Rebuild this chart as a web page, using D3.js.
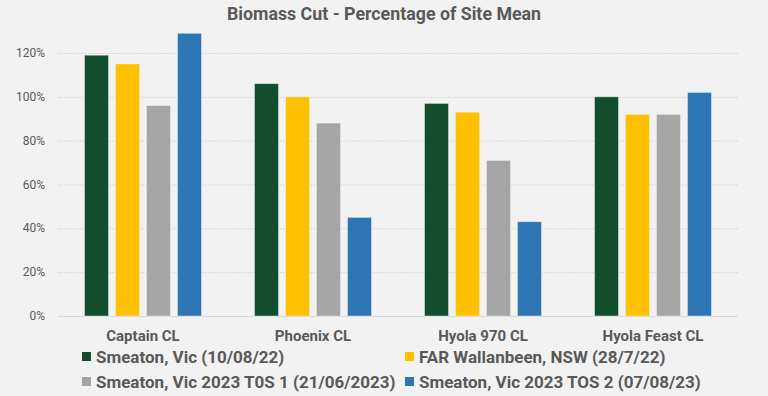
<!DOCTYPE html>
<html>
<head>
<meta charset="utf-8">
<script src="https://cdn.jsdelivr.net/npm/d3@7"></script>
<style>
  body { margin: 0; background: #f2f2f2; }
  text { font-family: Roboto, "Liberation Sans", sans-serif; }
</style>
</head>
<body>
<div id="chart"></div>
<script>
// chart data
var categories = ["Captain CL", "Phoenix CL", "Hyola 970 CL", "Hyola Feast CL"];
var seriesNames = ["Smeaton, Vic (10/08/22)", "FAR Wallanbeen, NSW (28/7/22)",
    "Smeaton, Vic 2023 T0S 1 (21/06/2023)", "Smeaton, Vic 2023 TOS 2 (07/08/23)"];
var smeaton22 = [119, 106, 97, 100];
var wallanbeen22 = [115, 100, 93, 92];
var smeatonTos1 = [96, 88, 71, 92];
var smeatonTos2 = [129, 45, 43, 102];
var yTicks = [0, 20, 40, 60, 80, 100, 120];
var colors = ["#124e2d", "#ffc000", "#a5a5a5", "#2e75b6"];

var seriesValues = [smeaton22, wallanbeen22, smeatonTos1, smeatonTos2];

var width = 768,
    height = 396;

var svg = d3.select("#chart")
    .append("svg")
    .attr("width", width)
    .attr("height", height)
    .style("background", "#f2f2f2");

var x0 = d3.scaleBand().domain(categories).range([58, 738]).paddingInner(0.312).paddingOuter(0.156);
var x1 = d3.scaleBand().domain(d3.range(4)).range([0, x0.bandwidth()]).paddingInner(0.226);
var y = d3.scaleLinear().domain([0, 120]).range([316, 53]);

// gridlines
svg.append("g").selectAll("line")
    .data(yTicks)
    .enter().append("line")
    .attr("x1", 58)
    .attr("x2", 738)
    .attr("y1", function(d) { return y(d) + 0.5; })
    .attr("y2", function(d) { return y(d) + 0.5; })
    .attr("stroke", "#d9d9d9")
    .attr("stroke-width", 1)
    .attr("stroke-dasharray", function(d) { return d == 0 ? null : "2,1"; });

// y axis labels
svg.append("g").selectAll("text")
    .data(yTicks)
    .enter().append("text")
    .attr("x", 45)
    .attr("y", function(d) { return y(d) + 4; })
    .attr("text-anchor", "end")
    .attr("font-size", 12)
    .attr("fill", "#595959")
    .text(function(d) { return d + "%"; });

// bars
var groups = svg.append("g").selectAll("g")
    .data(categories)
    .enter().append("g")
    .attr("transform", function(d) { return "translate(" + x0(d) + ",0)"; });

groups.selectAll("rect")
    .data(function(d, i) {
        return seriesValues.map(function(s, j) { return { s: j, v: s[i] }; });
    })
    .enter().append("rect")
    .attr("x", function(d) { return x1(d.s); })
    .attr("width", x1.bandwidth())
    .attr("y", function(d) { return y(d.v); })
    .attr("height", function(d) { return y(0) - y(d.v); })
    .attr("fill", function(d) { return colors[d.s]; })
    .attr("stroke", "#f2f2f2")
    .attr("stroke-opacity", 0.6)
    .attr("stroke-width", 0.75);

// category labels
svg.append("g").selectAll("text")
    .data(categories)
    .enter().append("text")
    .attr("x", function(d) { return x0(d) + x0.bandwidth() / 2; })
    .attr("y", 341)
    .attr("text-anchor", "middle")
    .attr("font-size", 15)
    .attr("font-weight", "bold")
    .attr("fill", "#595959")
    .text(function(d) { return d; });

// title
svg.append("text")
    .attr("x", 384)
    .attr("y", 20)
    .attr("text-anchor", "middle")
    .attr("font-size", 17.8)
    .attr("font-weight", "bold")
    .attr("fill", "#595959")
    .text("Biomass Cut - Percentage of Site Mean");

// legend
var legendPos = [[82, 363], [405, 363], [82, 388], [405, 388]];
var legend = svg.append("g").selectAll("g")
    .data(seriesNames)
    .enter().append("g")
    .attr("transform", function(d, i) { return "translate(" + legendPos[i][0] + "," + legendPos[i][1] + ")"; });

legend.append("rect")
    .attr("x", 0)
    .attr("y", -11)
    .attr("width", 9)
    .attr("height", 9)
    .attr("fill", function(d, i) { return colors[i]; });

legend.append("text")
    .attr("x", 14)
    .attr("y", 0)
    .attr("font-size", 17)
    .attr("font-weight", "bold")
    .attr("fill", "#595959")
    .text(function(d) { return d; });
</script>
</body>
</html>
